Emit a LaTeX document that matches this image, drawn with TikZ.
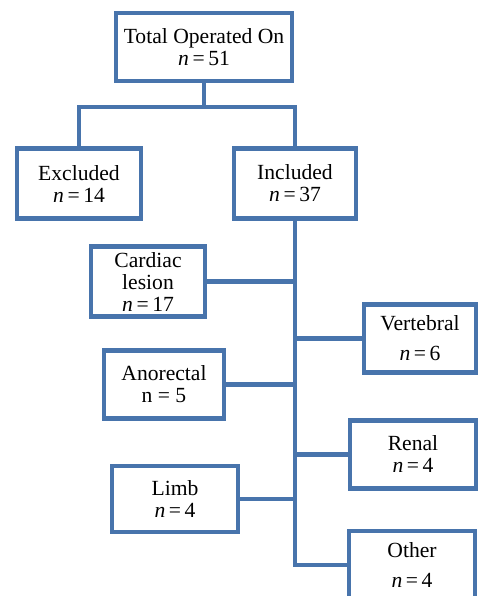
\documentclass[tikz,border=0pt]{standalone}
\usepackage{fontspec}
\setmainfont{Liberation Serif}
\usepackage{tikz}

\definecolor{boxblue}{RGB}{72,116,172}
\tikzset{
  flowbox/.style={draw=boxblue, line width=2.3pt, fill=white, align=center,
    font=\fontsize{10.8}{11}\selectfont, inner sep=1pt},
  link/.style={draw=boxblue, line width=2.3pt}
}

\begin{document}
\begin{tikzpicture}[x=0.5pt,y=-0.5pt]
    \clip (0,0) rectangle (479,596);

    % Top of the chart
    \node[flowbox, minimum width=88pt, minimum height=34pt] (total) at (204,47) {Total Operated On\\\textit{n}\,=\,51};
    \node[flowbox, minimum width=62pt, minimum height=35pt] (excl) at (79,183.5) {Excluded\\\textit{n}\,=\,14};
    \node[flowbox, minimum width=61pt, minimum height=35pt] (incl) at (295,183.5) {Included\\\textit{n}\,=\,37};

    % Left branches
    \node[flowbox, minimum width=57pt, minimum height=35pt] (cardiac) at (148,281.5) {Cardiac\\lesion\\\textit{n}\,=\,17};
    \node[flowbox, minimum width=60pt, minimum height=34pt] (anorectal) at (164,384.5) {Anorectal\\n = 5};
    \node[flowbox, minimum width=63pt, minimum height=33pt] (limb) at (175,499) {Limb\\\textit{n}\,=\,4};

    % Right branches
    \node[flowbox, minimum width=56pt, minimum height=34pt] (vertebral) at (420,338.5) {Vertebral\\[4pt]\textit{n}\,=\,6};
    \node[flowbox, minimum width=63pt, minimum height=34pt] (renal) at (413,454.5) {Renal\\\textit{n}\,=\,4};
    \node[flowbox, minimum width=63pt, minimum height=34pt] (other) at (412,565) {Other\\[4pt]\textit{n}\,=\,4};

    % Connectors
    \coordinate (split) at (204,107);
    \draw[link] (total.south) -- (split);
    \draw[link] (excl.north) |- (split) -| (incl.north);
    \draw[link] (incl.south) |- (other.west);
    \draw[link] (cardiac.east) -- (cardiac.east -| incl.south);
    \draw[link] (anorectal.east) -- (anorectal.east -| incl.south);
    \draw[link] (limb.east) -- (limb.east -| incl.south);
    \draw[link] (vertebral.west) -- (vertebral.west -| incl.south);
    \draw[link] (renal.west) -- (renal.west -| incl.south);
\end{tikzpicture}
\end{document}
